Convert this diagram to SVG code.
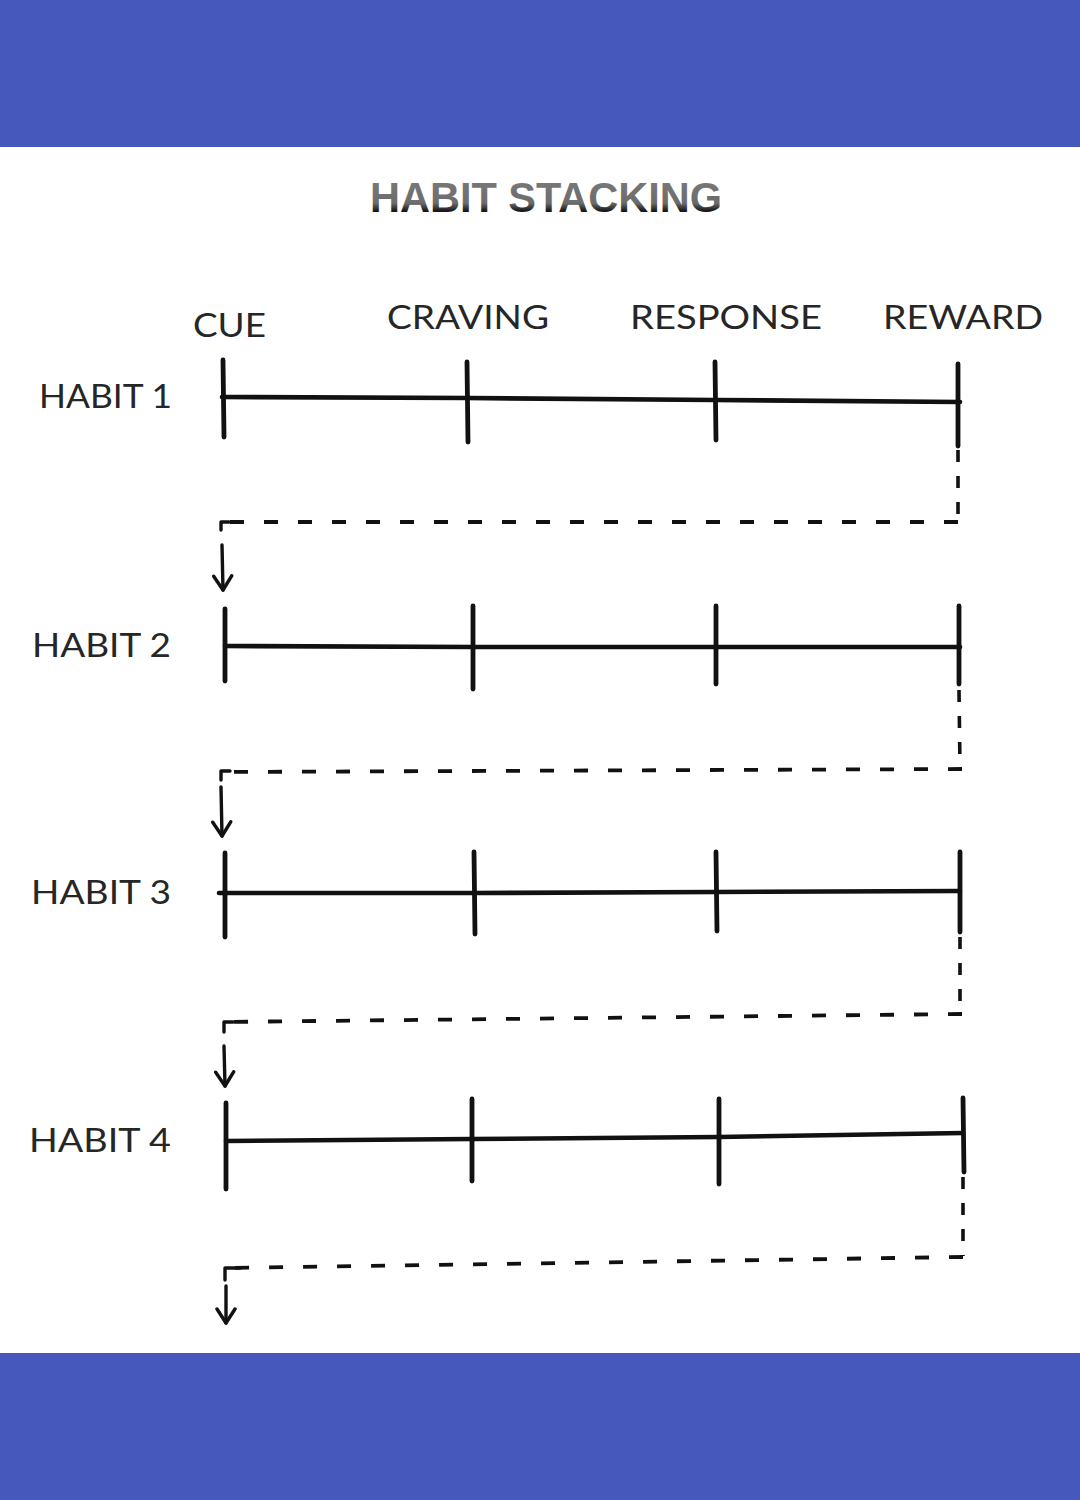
<svg xmlns="http://www.w3.org/2000/svg" width="1080" height="1500" viewBox="0 0 1080 1500">
<defs>
<linearGradient id="tg" x1="0" y1="0" x2="0" y2="1">
<stop offset="0" stop-color="#7c7c7c"/>
<stop offset="0.62" stop-color="#6c6c6c"/>
<stop offset="0.78" stop-color="#1a1a1a"/>
<stop offset="1" stop-color="#000"/>
</linearGradient>
<marker id="ah" viewBox="0 0 18 22" refX="16" refY="11" markerWidth="18" markerHeight="22" markerUnits="userSpaceOnUse" orient="auto">
<path d="M2,2 L16,11 L2,20" fill="none" stroke="#111" stroke-width="3.4" stroke-linecap="round" stroke-linejoin="round"/>
</marker>
</defs>
<style>
.bar{fill:#4658bc}
.lbl{font-family:Lato,"Liberation Sans",sans-serif;font-weight:400;font-size:32px;fill:#262626}
.line{stroke:#111;stroke-width:4.6;fill:none;stroke-linecap:round}
.tick{stroke:#111;stroke-width:4.8;fill:none;stroke-linecap:round}
.dash{stroke:#111;stroke-width:3.8;fill:none;stroke-dasharray:14 20}
.vdash{stroke:#111;stroke-width:3.6;fill:none;stroke-dasharray:12 14}
.solid{stroke:#111;stroke-width:3.4;fill:none;stroke-linecap:round}
</style>
<rect width="1080" height="1500" fill="#ffffff"/>
<rect class="bar" x="0" y="0" width="1080" height="147"/>
<rect class="bar" x="0" y="1353" width="1080" height="147"/>

<text x="370" y="212" textLength="352" lengthAdjust="spacingAndGlyphs" font-family="'Liberation Sans',Arial,sans-serif" font-weight="700" font-size="42" fill="url(#tg)">HABIT STACKING</text>

<g id="headers">
<text class="lbl" x="193" y="337" textLength="73" lengthAdjust="spacingAndGlyphs">CUE</text>
<text class="lbl" x="387" y="329" textLength="162" lengthAdjust="spacingAndGlyphs">CRAVING</text>
<text class="lbl" x="630" y="329" textLength="192" lengthAdjust="spacingAndGlyphs">RESPONSE</text>
<text class="lbl" x="883" y="329" textLength="160" lengthAdjust="spacingAndGlyphs">REWARD</text>
</g>

<g id="habit1">
<text class="lbl" x="39" y="408" textLength="133" lengthAdjust="spacingAndGlyphs">HABIT 1</text>
<path class="line" d="M222,397 L467,398 L715,400 L960,402"/>
<path class="tick" d="M223,360 L224,437 M467,362 L468,442 M715,362 L716,440 M958,364 L958,446"/>
</g>

<g id="habit2">
<text class="lbl" x="32" y="657" textLength="139" lengthAdjust="spacingAndGlyphs">HABIT 2</text>
<path class="line" d="M225,646 L473,647 L716,647 L960,647"/>
<path class="tick" d="M225,609 L225,681 M473,606 L473,689 M716,606 L716,684 M959,606 L959,684"/>
</g>

<g id="habit3">
<text class="lbl" x="31" y="904" textLength="140" lengthAdjust="spacingAndGlyphs">HABIT 3</text>
<path class="line" d="M219,893 L474,893 L716,892 L960,891"/>
<path class="tick" d="M225,853 L225,937 M474,852 L475,934 M716,852 L717,931 M960,852 L960,932"/>
</g>

<g id="habit4">
<text class="lbl" x="29" y="1152" textLength="142" lengthAdjust="spacingAndGlyphs">HABIT 4</text>
<path class="line" d="M226,1141 L472,1139 L719,1137 L963,1133"/>
<path class="tick" d="M226,1103 L226,1189 M472,1099 L472,1181 M719,1099 L719,1184 M963,1098 L964,1172"/>
</g>

<g id="connectors">
<path class="vdash" d="M958,450 L958,522"/>
<path class="dash" d="M958,522 L222,522"/>
<path class="solid" d="M221,522 L221,530 M221,522 L229,522"/>
<path class="solid" d="M222,545 L223,590" marker-end="url(#ah)"/>

<path class="vdash" d="M959,690 L960,768"/>
<path class="dash" d="M962,769 L221,772"/>
<path class="solid" d="M221,771 L221,780 M221,771 L230,771"/>
<path class="solid" d="M221,787 L222,836" marker-end="url(#ah)"/>

<path class="vdash" d="M960,937 L960,1013"/>
<path class="dash" d="M962,1014 L224,1022"/>
<path class="solid" d="M224,1022 L224,1032 M224,1022 L233,1022"/>
<path class="solid" d="M224,1046 L225,1086" marker-end="url(#ah)"/>

<path class="vdash" d="M963,1177 L963,1256"/>
<path class="dash" d="M963,1257 L226,1268"/>
<path class="solid" d="M225,1268 L225,1280 M225,1268 L240,1268"/>
<path class="solid" d="M226,1286 L226,1323" marker-end="url(#ah)"/>
</g>
</svg>
